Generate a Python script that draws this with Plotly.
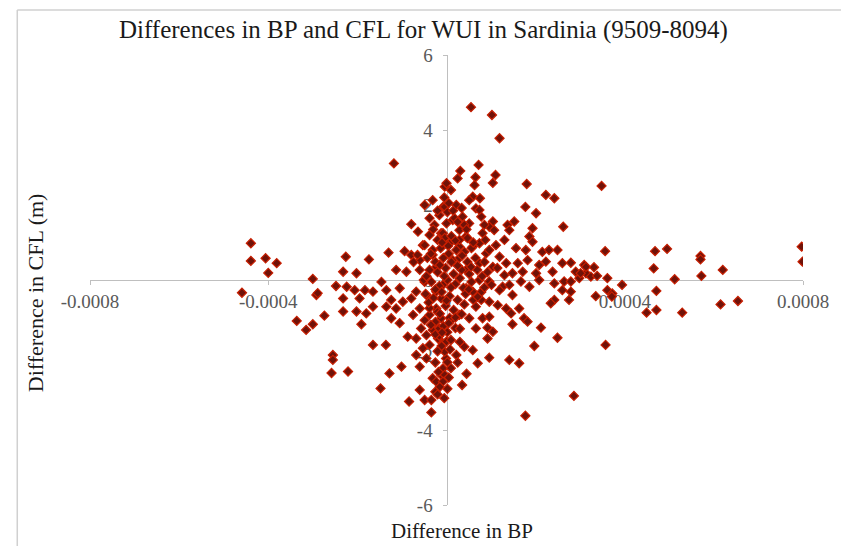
import plotly.graph_objects as go

# Difference in BP (x) and difference in CFL in metres (y)
bp_outer = [
    -4.39e-4, -4.39e-4, -4.06e-4, -3.81e-4, -4.00e-4, -4.59e-4, -3.00e-4, -2.92e-4, -2.89e-4, -2.48e-4,
    -2.74e-4, -3.36e-4, -3.15e-4, -3.00e-4, -2.55e-4, -2.55e-4, -2.58e-4,
    -1.18e-4, -0.31e-4, -0.49e-4, -0.38e-4, -0.79e-4, -0.64e-4, -0.53e-4, -1.30e-4, -0.94e-4, -0.79e-4,
    -1.74e-4, -2.26e-4, -2.32e-4, -2.02e-4, -1.13e-4, -0.90e-4, -0.60e-4, -0.31e-4, -0.23e-4, -0.04e-4,
    -0.08e-4, -0.12e-4,
]
cfl_outer = [
    0.98, 0.51, 0.58, 0.45, 0.19, -0.34, 0.03, -0.40, -0.35, -0.16,
    -0.95, -1.09, -1.33, -1.18, -2.00, -2.13, -2.48,
    3.11, 2.13, 2.00, 1.65, 1.49, 1.29, 0.93, 0.73, 0.77, 0.67,
    0.55, 0.62, 0.22, 0.18, 0.27, 0.22, 0.53, 0.67, 0.35, 2.49,
    1.95, 1.25,
]

bp_upper_right = [
    0.55e-4, 1.02e-4, 1.19e-4, 0.72e-4, 0.31e-4, 0.25e-4, 0.65e-4, 1.10e-4, 0.63e-4, 1.04e-4,
    1.80e-4, 0.00e-4, 0.10e-4, 2.23e-4, 2.42e-4, 0.59e-4, 0.75e-4, 1.77e-4, 2.01e-4, 2.62e-4,
    -0.04e-4, 0.22e-4, 0.66e-4, 0.78e-4, 1.04e-4, 1.37e-4, 1.52e-4, 1.41e-4, 1.93e-4, 1.86e-4,
    1.93e-4, 0.81e-4, 0.74e-4, 1.11e-4, 1.30e-4, 1.56e-4, 1.78e-4, 2.15e-4, 2.30e-4, 2.49e-4,
    1.60e-4, 1.82e-4, 2.08e-4, 2.23e-4, 2.60e-4, 2.79e-4, 3.09e-4, 3.13e-4, 2.90e-4, 0.36e-4,
    0.51e-4, 0.96e-4, 0.14e-4, 0.29e-4, 0.00e-4, 0.44e-4, 0.59e-4, 0.89e-4, 1.19e-4, 1.34e-4,
    1.04e-4, 0.74e-4, 0.29e-4, 0.07e-4, -0.08e-4, 0.14e-4, 0.44e-4, 1.71e-4, 1.48e-4, 2.01e-4,
    2.38e-4,
]
cfl_upper_right = [
    4.61, 4.40, 3.78, 3.07, 2.91, 2.71, 2.74, 2.80, 2.53, 2.59,
    2.56, 2.58, 2.40, 2.27, 2.18, 2.22, 2.18, 1.95, 1.78, 1.42,
    1.95, 2.00, 1.91, 1.69, 1.56, 1.47, 1.56, 1.33, 1.38, 1.16,
    1.02, 1.25, 0.98, 0.93, 1.07, 0.85, 0.80, 0.75, 0.80, 0.80,
    0.45, 0.53, 0.40, 0.49, 0.45, 0.46, 0.40, 0.18, 0.22, 1.69,
    1.51, 1.42, 1.60, 1.33, 1.51, 1.16, 0.89, 0.71, 0.62, 0.45,
    0.35, 0.45, 0.89, 0.98, 1.25, 0.53, 0.27, 0.22, 0.18, 0.18,
    0.22,
]

bp_lower_left = [
    -2.24e-4, -2.32e-4, -1.95e-4, -2.06e-4, -1.83e-4, -1.65e-4, -1.46e-4, -1.35e-4, -1.65e-4, -1.35e-4,
    -1.24e-4, -1.05e-4, -0.98e-4, -0.79e-4, -2.32e-4, -2.02e-4, -1.80e-4, -1.91e-4, -1.24e-4, -1.05e-4,
    -0.75e-4, -0.49e-4, -0.87e-4, -0.68e-4, -1.65e-4, -1.36e-4, -2.21e-4, -1.28e-4, -1.01e-4, -0.68e-4,
    -0.60e-4, -0.45e-4, -1.48e-4, -0.60e-4, -0.84e-4, -0.49e-4, -0.34e-4, -0.34e-4, -0.25e-4, -0.31e-4,
    -0.23e-4, -0.53e-4, -0.38e-4, -0.19e-4, -0.45e-4, -0.57e-4, -0.31e-4, -0.16e-4, -0.12e-4, -0.38e-4,
    -0.23e-4, -0.60e-4, -1.13e-4, -0.45e-4, -0.68e-4, -0.23e-4, -0.12e-4, -0.49e-4, -0.08e-4, -0.01e-4,
    -0.08e-4, -0.12e-4, -0.04e-4, -0.08e-4,
]
cfl_lower_left = [
    -0.18, -0.49, -0.49, -0.27, -0.27, -0.31, -0.05, -0.27, -0.71, -0.71,
    -0.53, -0.22, -0.58, -0.49, -0.84, -0.84, -0.89, -1.18, -1.02, -1.15,
    -0.93, -1.07, -1.51, -1.56, -1.73, -1.73, -2.44, -2.49, -2.31, -2.00,
    -2.31, -2.09, -2.89, -2.93, -3.24, -3.20, -3.20, -3.53, -2.98, -2.62,
    -2.71, -1.82, -1.73, -1.56, -1.47, -1.29, -1.33, -1.29, -1.02, -0.93,
    -0.76, -0.76, -0.76, -0.40, -0.31, -0.31, -0.49, -0.05, -0.13, -2.09,
    -2.36, -2.53, -1.91, -1.69,
]

bp_lower_right = [
    2.42e-4, 2.64e-4, 2.79e-4, 2.60e-4, 2.79e-4, 2.75e-4, 2.42e-4, 2.34e-4, 2.98e-4, 1.86e-4,
    1.67e-4, 1.48e-4, 1.63e-4, 1.34e-4, 1.45e-4, 1.15e-4, 0.96e-4, 0.78e-4, 0.66e-4, 0.81e-4,
    0.96e-4, 1.74e-4, 1.82e-4, 1.48e-4, 2.12e-4, 2.49e-4, 1.97e-4, 0.92e-4, 0.66e-4, 1.04e-4,
    0.92e-4, 0.40e-4, 0.59e-4, 0.22e-4, 0.25e-4, 0.70e-4, 0.96e-4, 1.41e-4, 1.63e-4, 2.86e-4,
    1.77e-4, 0.51e-4, 0.29e-4, 0.00e-4, -0.04e-4, -0.08e-4, 0.59e-4, 0.44e-4, 0.96e-4, 1.26e-4,
    2.08e-4, 0.74e-4,
]
cfl_lower_right = [
    -0.09, -0.04, -0.04, -0.27, -0.31, -0.53, -0.53, -0.62, 0.05, -0.18,
    -0.04, -0.40, -0.76, -0.76, -0.89, -0.67, -0.58, -0.53, -0.71, -1.02,
    -0.98, -1.02, -1.11, -1.18, -1.27, -1.54, -1.76, -1.27, -1.29, -1.38,
    -1.56, -1.78, -1.87, -2.00, -2.20, -2.22, -2.07, -2.13, -2.22, -3.09,
    -3.62, -1.02, -0.93, -1.64, -2.53, -2.71, -0.31, -0.22, -0.04, -0.18,
    0.00, 0.00,
]

bp_far_right = [
    3.48e-4, 3.56e-4, 4.68e-4, 4.95e-4, 5.70e-4, 5.70e-4, 6.20e-4, 4.65e-4, 7.97e-4, 7.99e-4,
    5.12e-4, 5.72e-4, 3.13e-4, 3.31e-4, 3.01e-4, 3.24e-4, 3.38e-4, 3.61e-4, 3.94e-4, 3.61e-4,
    3.72e-4, 3.35e-4, 3.71e-4, 4.71e-4, 4.49e-4, 4.71e-4, 5.29e-4, 6.15e-4, 6.54e-4, 3.57e-4,
]
cfl_far_right = [
    2.51, 0.77, 0.77, 0.83, 0.64, 0.55, 0.27, 0.31, 0.89, 0.49,
    0.02, 0.11, 0.35, 0.34, 0.18, 0.09, 0.11, 0.05, -0.13, -0.27,
    -0.36, -0.43, -0.44, -0.29, -0.87, -0.80, -0.87, -0.65, -0.56, -1.73,
]

bp_core = [
    -0.38e-4, -0.20e-4, -0.04e-4, 0.11e-4, 0.29e-4, 0.47e-4, -0.49e-4, -0.31e-4, -0.13e-4, 0.04e-4,
    0.22e-4, 0.40e-4, 0.56e-4, -0.43e-4, -0.25e-4, -0.07e-4, 0.11e-4, 0.29e-4, 0.47e-4, 0.65e-4,
    -0.38e-4, -0.20e-4, -0.02e-4, 0.16e-4, 0.34e-4, 0.51e-4, 0.69e-4, -0.34e-4, -0.16e-4, 0.02e-4,
    0.20e-4, 0.38e-4, 0.56e-4, -0.47e-4, -0.29e-4, -0.11e-4, 0.07e-4, 0.25e-4, 0.43e-4, 0.60e-4,
    -0.38e-4, -0.20e-4, -0.02e-4, 0.16e-4, 0.34e-4, -0.25e-4, -0.07e-4, 0.11e-4, -0.16e-4, 0.02e-4,
    -0.11e-4, 0.02e-4, 0.07e-4, 0.20e-4, -0.60e-4, -0.51e-4, -0.65e-4, -0.74e-4, 0.85e-4, 0.92e-4,
    1.01e-4, 0.78e-4, 0.87e-4, 0.96e-4, 1.14e-4, 1.30e-4, 1.19e-4, 1.41e-4, 1.07e-4, 0.85e-4,
    0.40e-4, 0.18e-4, 0.02e-4, 0.34e-4, 0.51e-4, 0.74e-4, -0.16e-4, -0.27e-4,
]
cfl_core = [
    1.20, 1.07, 1.12, 1.17, 1.07, 1.12, 0.93, 0.80, 0.85, 0.91,
    0.80, 0.75, 0.85, 0.59, 0.48, 0.59, 0.48, 0.59, 0.48, 0.59,
    0.27, 0.21, 0.32, 0.16, 0.27, 0.16, 0.27, -0.05, -0.16, 0.00,
    -0.11, -0.21, -0.05, -0.37, -0.48, -0.32, -0.43, -0.53, -0.37, -0.53,
    -0.75, -0.85, -0.69, -0.80, -0.91, -1.12, -1.23, -1.07, -1.49, -1.39,
    -1.76, -2.19, -1.01, -1.28, 0.27, 0.00, 0.67, 0.48, 0.48, 0.21,
    -0.13, -0.32, 1.07, 0.80, 0.32, 0.13, -0.27, -0.13, 1.33, 1.47,
    1.47, 1.65, 1.81, 1.92, 2.13, 1.87, 1.73, 1.47,
]

# dense column along the vertical axis
bp_column = [
    -0.05e-4, 0.05e-4, 0.15e-4, -0.20e-4, 0.25e-4, -0.30e-4, 0.45e-4, -0.10e-4, 0.20e-4, 0.60e-4,
    -0.35e-4, 0.05e-4, 0.35e-4, -0.15e-4, 0.25e-4, 0.55e-4, -0.45e-4, -0.05e-4, 0.30e-4, 0.80e-4,
    -0.25e-4, 0.10e-4, 0.50e-4, 0.85e-4, -0.40e-4, 0.00e-4, 0.40e-4, 0.70e-4, -0.15e-4, 0.20e-4,
    -0.35e-4, 0.05e-4, 0.30e-4, -0.25e-4, 0.10e-4, -0.10e-4, 0.30e-4, -0.20e-4, 0.08e-4, -0.25e-4,
    0.10e-4, -0.18e-4, 0.05e-4, -0.15e-4, 0.02e-4, -0.20e-4, -0.05e-4, 0.45e-4, 0.35e-4,
]
cfl_column = [
    2.20, 2.05, 1.85, 1.85, 1.55, 1.35, 1.35, 1.00, 1.05, 1.00,
    0.70, 0.70, 0.65, 0.40, 0.38, 0.35, 0.10, 0.10, 0.05, 0.10,
    -0.25, -0.20, -0.25, -0.20, -0.60, -0.55, -0.65, -0.45, -0.90, -1.00,
    -1.20, -1.15, -1.30, -1.45, -1.60, -1.40, -1.65, -1.90, -1.85, -2.20,
    -2.35, -2.45, -2.60, -2.85, -2.90, -3.05, -3.15, -2.50, -2.80,
]

bp_all = bp_outer + bp_upper_right + bp_lower_left + bp_lower_right + bp_far_right + bp_core + bp_column
cfl_all = cfl_outer + cfl_upper_right + cfl_lower_left + cfl_lower_right + cfl_far_right + cfl_core + cfl_column

x_tickvals = [-0.0008, -0.0004, 0, 0.0004, 0.0008]
x_ticktext = ["-0.0008", "-0.0004", "0", "0.0004", "0.0008"]
y_tickvals = [-6, -4, -2, 0, 2, 4, 6]
y_ticktext = ["-6", "-4", "-2", "0", "2", "4", "6"]

SERIF = "Liberation Serif"
AXIS_GRAY = "#BFBFBF"
LABEL_GRAY = "#595959"
TEXT_DARK = "#1A1A1A"

fig = go.Figure()
fig.add_trace(go.Scatter(
    x=bp_all, y=cfl_all, mode="markers",
    marker=dict(symbol="diamond", size=7, color="#701208",
                line=dict(color="#C81E00", width=1.2)),
    showlegend=False, hoverinfo="skip",
))

axis_common = dict(
    showline=True, linecolor=AXIS_GRAY, linewidth=1,
    ticks="outside", ticklen=4, tickcolor=AXIS_GRAY,
    tickfont=dict(family=SERIF, size=19, color=LABEL_GRAY),
    showgrid=False, zeroline=False, layer="below traces",
    anchor="free", position=0.5,
)

fig.update_layout(
    width=841, height=546,
    margin=dict(l=90, r=36, t=55, b=41),
    paper_bgcolor="white", plot_bgcolor="white",
    xaxis=dict(range=[-0.0008, 0.0008], tickvals=x_tickvals, ticktext=x_ticktext, **axis_common),
    yaxis=dict(range=[-6, 6], tickvals=y_tickvals, ticktext=y_ticktext,
               ticklabelstandoff=6, **axis_common),
    annotations=[
        dict(text="Differences in BP and CFL for WUI in Sardinia (9509-8094)",
             xref="paper", yref="paper", x=0.468, y=1.0556, xanchor="center", yanchor="middle",
             showarrow=False, font=dict(family=SERIF, size=25, color=TEXT_DARK)),
        dict(text="Difference in BP", xref="paper", yref="paper", x=0.522, y=-0.058,
             xanchor="center", yanchor="middle", showarrow=False,
             font=dict(family=SERIF, size=21, color=TEXT_DARK)),
        dict(text="Difference in CFL (m)", xref="paper", yref="paper", x=-0.077, y=0.471,
             xanchor="center", yanchor="middle", textangle=-90, showarrow=False,
             font=dict(family=SERIF, size=22, color=TEXT_DARK)),
    ],
    shapes=[
        dict(type="line", xref="paper", yref="paper", x0=-0.102, y0=1.1, x1=1.2, y1=1.1,
             line=dict(color="#D0D0D0", width=1.5)),
        dict(type="line", xref="paper", yref="paper", x0=-0.102, y0=1.1, x1=-0.102, y1=-0.2,
             line=dict(color="#D0D0D0", width=1.5)),
    ],
)

fig.write_html("out.html")
